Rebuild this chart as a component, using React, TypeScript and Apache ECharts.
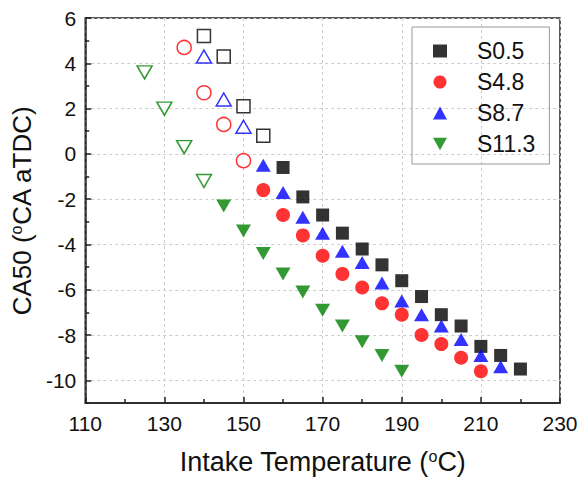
import React, { useEffect, useRef } from 'react';
import * as echarts from 'echarts';

const FONT = 'Arial, "Liberation Sans", sans-serif';

// Intake temperature (°C) and CA50 (°CA aTDC) per series
const tS05 = [140, 145, 150, 155, 160, 165, 170, 175, 180, 185, 190, 195, 200, 205, 210, 215, 220];
const vS05 = [5.2, 4.3, 2.1, 0.8, -0.6, -1.9, -2.7, -3.5, -4.2, -4.9, -5.6, -6.3, -7.1, -7.6, -8.5, -8.9, -9.5];
const hollowS05 = 4;

const tS48 = [135, 140, 145, 150, 155, 160, 165, 170, 175, 180, 185, 190, 195, 200, 205, 210];
const vS48 = [4.7, 2.7, 1.3, -0.3, -1.6, -2.7, -3.6, -4.5, -5.3, -5.9, -6.6, -7.1, -8.0, -8.4, -9.0, -9.6];
const hollowS48 = 4;

const tS87 = [140, 145, 150, 155, 160, 165, 170, 175, 180, 185, 190, 195, 200, 205, 210, 215];
const vS87 = [4.3, 2.4, 1.2, -0.5, -1.7, -2.8, -3.5, -4.3, -4.8, -5.7, -6.5, -7.1, -7.6, -8.2, -8.9, -9.4];
const hollowS87 = 3;

const tS113 = [125, 130, 135, 140, 145, 150, 155, 160, 165, 170, 175, 180, 185, 190];
const vS113 = [3.6, 2.0, 0.3, -1.2, -2.3, -3.4, -4.4, -5.3, -6.1, -6.9, -7.6, -8.3, -8.9, -9.6];
const hollowS113 = 4;

const seriesNames = ['S0.5', 'S4.8', 'S8.7', 'S11.3'];

const yMajor = [-10, -8, -6, -4, -2, 0, 2, 4, 6];
const yMinor = [-11, -9, -7, -5, -3, -1, 1, 3, 5];

const DOWN_TRI = 'path://M0,0 L10,0 L5,9 Z';

function mk(name: string, temps: number[], vals: number[], hollow: number, symbol: string, size: any, color: string) {
  return {
    type: 'scatter',
    name,
    symbol,
    symbolSize: size,
    itemStyle: { color },
    data: temps.map((t, i) =>
      i < hollow
        ? { value: [t, vals[i]], itemStyle: { color: '#ffffff', borderColor: color, borderWidth: 1.5 } }
        : [t, vals[i]]
    ),
  };
}

const titleStyle = (size: number) => ({
  fontSize: size, color: '#111', fontFamily: FONT,
  rich: { sup: { fontSize: 16, verticalAlign: 'top', padding: [0, 0, 12, 0], color: '#111', fontFamily: FONT } },
});

export default function App() {
  const ref = useRef<HTMLDivElement>(null);
  useEffect(() => {
    const chart = echarts.init(ref.current!, null, { renderer: 'svg' });
    chart.setOption({
      animation: false,
      backgroundColor: '#ffffff',
      textStyle: { fontFamily: FONT },
      grid: {
        left: 84, right: 22, top: 18, bottom: 82,
        show: true, borderColor: '#222', borderWidth: 1.5,
      },
      legend: {
        data: seriesNames,
        orient: 'vertical',
        left: 412,
        top: 27,
        padding: [12, 14, 8, 21],
        itemWidth: 14,
        itemHeight: 13,
        itemGap: 7,
        borderColor: '#999',
        borderWidth: 1,
        textStyle: { fontSize: 23, color: '#111', fontFamily: FONT, lineHeight: 24, padding: [0, 0, 0, 25] },
      },
      xAxis: {
        type: 'value',
        min: 110, max: 230, interval: 20,
        name: 'Intake Temperature ({sup|o}C)',
        nameLocation: 'middle',
        nameGap: 45,
        nameTextStyle: titleStyle(27),
        axisLine: { show: true, onZero: false, lineStyle: { color: '#222', width: 1.5 } },
        axisTick: { show: true, inside: true, length: 6, lineStyle: { color: '#222', width: 1.5 } },
        minorTick: { show: true, splitNumber: 2, length: 4, lineStyle: { color: '#222', width: 1.5 } },
        axisLabel: { fontSize: 21, color: '#111', margin: 10, fontFamily: FONT },
        splitLine: { show: true, lineStyle: { color: '#cccccc', type: [3, 3], width: 1 } },
      },
      yAxis: [
        {
          type: 'value',
          min: -11, max: 6, interval: 1,
          name: 'CA50 ({sup|o}CA aTDC)',
          nameLocation: 'middle',
          nameGap: 46,
          nameTextStyle: titleStyle(26),
          axisLine: { show: true, onZero: false, lineStyle: { color: '#222', width: 1.5 } },
          axisTick: { show: true, inside: true, length: 6, customValues: yMajor, lineStyle: { color: '#222', width: 1.5 } },
          axisLabel: { customValues: yMajor, fontSize: 21, color: '#111', margin: 9, fontFamily: FONT },
          splitLine: { show: true, lineStyle: { color: '#cccccc', type: [3, 3], width: 1 } },
        },
        {
          type: 'value',
          min: -11, max: 6, interval: 1,
          position: 'left',
          axisLine: { show: false, onZero: false },
          axisTick: { show: true, inside: true, length: 4, customValues: yMinor, lineStyle: { color: '#222', width: 1.5 } },
          axisLabel: { show: false },
          splitLine: { show: false },
        },
      ],
      series: [
        mk('S0.5', tS05, vS05, hollowS05, 'rect', 13, '#000000'),
        mk('S4.8', tS48, vS48, hollowS48, 'circle', 14, '#ff0000'),
        mk('S8.7', tS87, vS87, hollowS87, 'triangle', [15, 13], '#0000ff'),
        mk('S11.3', tS113, vS113, hollowS113, DOWN_TRI, [15, 13], '#008000'),
      ],
    });
    return () => chart.dispose();
  }, []);
  return <div ref={ref} style={{ position: 'fixed', left: 0, top: 0, width: 582, height: 485 }} />;
}
